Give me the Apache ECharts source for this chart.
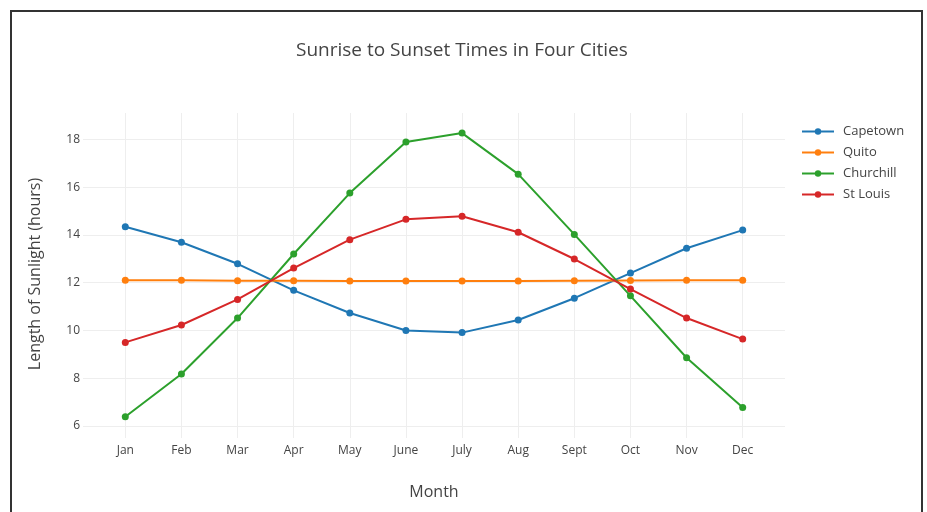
<!DOCTYPE html>
<html>
<head>
<meta charset="utf-8">
<script src="https://cdn.jsdelivr.net/npm/echarts@6/dist/echarts.min.js"></script>
<style>
html,body{margin:0;padding:0;background:#fff;}
#chart{width:927px;height:512px;}
</style>
</head>
<body>
<div id="chart"></div>
<script>
const months = ['Jan','Feb','Mar','Apr','May','June','July','Aug','Sept','Oct','Nov','Dec'];
const capetown = [14.34,13.69,12.79,11.68,10.73,10.0,9.91,10.44,11.35,12.40,13.44,14.20];
const quito = [12.1,12.1,12.08,12.08,12.07,12.07,12.07,12.07,12.08,12.09,12.1,12.1];
const churchill = [6.39,8.18,10.52,13.2,15.75,17.89,18.26,16.54,14.02,11.45,8.86,6.78];
const stLouis = [9.50,10.23,11.3,12.61,13.8,14.65,14.78,14.11,12.99,11.73,10.52,9.64];
const yTicks = [6,8,10,12,14,16,18];

const seriesNames = ['Capetown','Quito','Churchill','St Louis'];
const seriesData = [capetown, quito, churchill, stLouis];
const colors = ['#1f77b4','#ff7f0e','#2ca02c','#d62728'];

const chart = echarts.init(document.getElementById('chart'));
const textColor = '#444';
const font = '"Open Sans", "Noto Sans", sans-serif';

const option = {
  animation: false,
  textStyle: {fontFamily: font},
  title: [
    {text: 'Sunrise to Sunset Times in Four Cities', left: 291, top: 36,
     textStyle: {fontSize: 19, fontWeight: 'normal', color: textColor, fontFamily: font}}
  ],
  graphic: [
    {type: 'rect', shape: {x: 11, y: 11, width: 911, height: 520},
     style: {fill: 'none', stroke: '#333', lineWidth: 2}, z: 100},
    {type: 'text', x: 35, y: 274, rotation: Math.PI / 2,
     style: {text: 'Length of Sunlight (hours)', fill: textColor,
             font: '16px "Open Sans", "Noto Sans", sans-serif',
             textAlign: 'center', textVerticalAlign: 'middle',
             align: 'center', verticalAlign: 'middle'}}
  ],
  legend: {
    orient: 'vertical', left: 796, top: 120,
    itemWidth: 32, itemHeight: 8, itemGap: 8,
    textStyle: {fontSize: 13, color: textColor, fontFamily: font, padding: [0, 0, 0, 4]},
    data: seriesNames
  },
  grid: [
    {left: 83, right: 142, top: 139.3, bottom: 86, containLabel: false},
    {left: 125.3, right: 184.3, top: 113, bottom: 74, containLabel: false}
  ],
  xAxis: [
    {gridIndex: 0, type: 'value', min: 0, max: 1, show: false},
    {gridIndex: 1, type: 'category', data: months, boundaryGap: false,
     axisLine: {show: false}, axisTick: {show: false},
     axisLabel: {color: textColor, fontSize: 12, margin: 7, fontFamily: font},
     splitLine: {show: true, lineStyle: {color: '#eee', width: 1}},
     name: 'Month', nameLocation: 'middle', nameGap: 46,
     nameTextStyle: {fontSize: 16, color: textColor, fontFamily: font}}
  ],
  yAxis: [
    {gridIndex: 0, type: 'value', min: yTicks[0], max: yTicks[yTicks.length-1], interval: 2,
     axisLine: {show: false}, axisTick: {show: false},
     axisLabel: {color: textColor, fontSize: 12, margin: 3, fontFamily: font},
     splitLine: {show: true, lineStyle: {color: '#eee', width: 1}}},
    {gridIndex: 1, type: 'value', min: 5.5, max: 19.1, show: false, splitLine: {show: false}}
  ],
  series: seriesNames.map((n, i) => ({
    name: n, type: 'line', xAxisIndex: 1, yAxisIndex: 1,
    data: seriesData[i],
    symbol: 'circle', symbolSize: 7,
    lineStyle: {width: 2, color: colors[i]},
    itemStyle: {color: colors[i]},
    clip: false
  }))
};
chart.setOption(option);
</script>
</body>
</html>
